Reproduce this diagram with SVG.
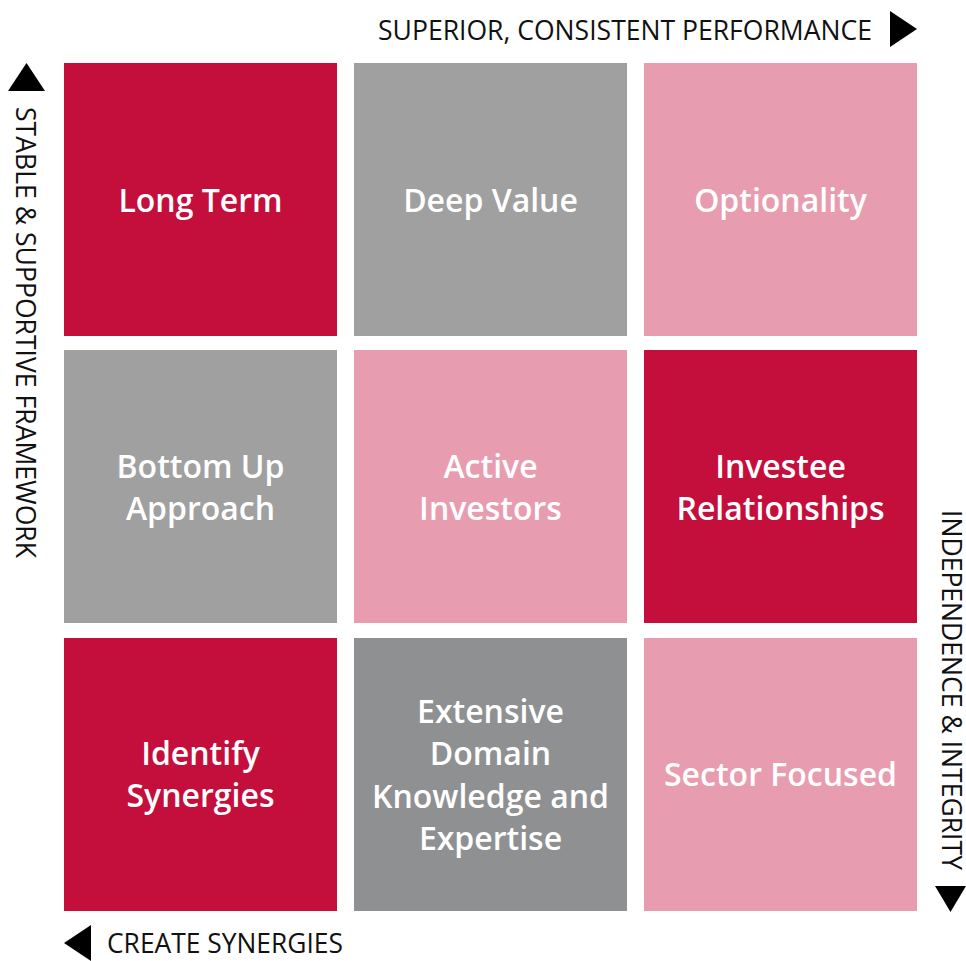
<svg xmlns="http://www.w3.org/2000/svg" width="966" height="961" viewBox="0 0 966 961">
<style>
.red{fill:#C40E3C}
.gray{fill:#A0A0A0}
.dgray{fill:#8F9092}
.pink{fill:#E79DAF}
.lbl{font-family:"Open Sans","Liberation Sans",sans-serif;font-weight:600;font-size:32px;fill:#FFFFFF;text-anchor:middle}
.axis{font-family:"Open Sans","Liberation Sans",sans-serif;font-weight:400;font-size:26.5px;fill:#111111}
.tri{fill:#000000}
</style>
<rect width="966" height="961" fill="#FFFFFF"/>
<g id="axes">
  <g id="axis-top">
    <text class="axis" x="378" y="40" textLength="494" lengthAdjust="spacingAndGlyphs">SUPERIOR, CONSISTENT PERFORMANCE</text>
    <polygon class="tri" points="890,11 917,29 890,47"/>
  </g>
  <g id="axis-left">
    <polygon class="tri" points="8,91 45,91 26.5,63"/>
    <text class="axis" transform="translate(16,107) rotate(90)" textLength="451" lengthAdjust="spacingAndGlyphs">STABLE &amp; SUPPORTIVE FRAMEWORK</text>
  </g>
  <g id="axis-right">
    <text class="axis" transform="translate(942,510) rotate(90)" textLength="360" lengthAdjust="spacingAndGlyphs">INDEPENDENCE &amp; INTEGRITY</text>
    <polygon class="tri" points="935,886 966,886 950.5,912"/>
  </g>
  <g id="axis-bottom">
    <polygon class="tri" points="91,925 91,961 64,943"/>
    <text class="axis" x="107" y="953" textLength="236" lengthAdjust="spacingAndGlyphs">CREATE SYNERGIES</text>
  </g>
</g>
<g id="connectors"></g>
<g id="long-term">
  <rect class="red" x="64" y="63" width="273" height="273"/>
  <text class="lbl" x="200.5" y="212">Long Term</text>
</g>
<g id="deep-value">
  <rect class="gray" x="354" y="63" width="273" height="273"/>
  <text class="lbl" x="490.5" y="212">Deep Value</text>
</g>
<g id="optionality">
  <rect class="pink" x="644" y="63" width="273" height="273"/>
  <text class="lbl" x="780.5" y="212">Optionality</text>
</g>
<g id="bottom-up-approach">
  <rect class="gray" x="64" y="350" width="273" height="273"/>
  <text class="lbl" x="200.5" y="478">Bottom Up</text>
  <text class="lbl" x="200.5" y="520">Approach</text>
</g>
<g id="active-investors">
  <rect class="pink" x="354" y="350" width="273" height="273"/>
  <text class="lbl" x="490.5" y="478">Active</text>
  <text class="lbl" x="490.5" y="520">Investors</text>
</g>
<g id="investee-relationships">
  <rect class="red" x="644" y="350" width="273" height="273"/>
  <text class="lbl" x="780.5" y="478">Investee</text>
  <text class="lbl" x="780.5" y="520">Relationships</text>
</g>
<g id="identify-synergies">
  <rect class="red" x="64" y="638" width="273" height="273"/>
  <text class="lbl" x="200.5" y="765">Identify</text>
  <text class="lbl" x="200.5" y="807">Synergies</text>
</g>
<g id="extensive-domain-knowledge">
  <rect class="dgray" x="354" y="638" width="273" height="273"/>
  <text class="lbl" x="490.5" y="722.5">Extensive</text>
  <text class="lbl" x="490.5" y="765">Domain</text>
  <text class="lbl" x="490.5" y="807.5">Knowledge and</text>
  <text class="lbl" x="490.5" y="850">Expertise</text>
</g>
<g id="sector-focused">
  <rect class="pink" x="644" y="638" width="273" height="273"/>
  <text class="lbl" x="780.5" y="786">Sector Focused</text>
</g>
</svg>
